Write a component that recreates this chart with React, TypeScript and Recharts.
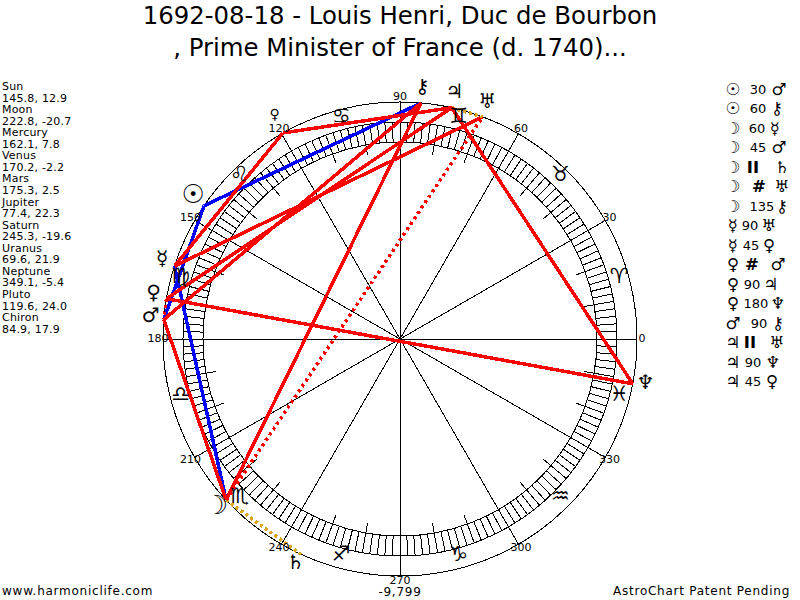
import { ScatterChart, Scatter, XAxis, YAxis, ReferenceDot, ReferenceLine } from "recharts";

const titleLines = ["1692-08-18 - Louis Henri, Duc de Bourbon", ", Prime Minister of France (d. 1740)..."];

const planetNames = ["Sun", "Moon", "Mercury", "Venus", "Mars", "Jupiter", "Saturn", "Uranus", "Neptune", "Pluto", "Chiron"];
const planetGlyphs = ["☉", "☽", "☿", "♀", "♂", "♃", "♄", "♅", "♆", "♀", "⚷"];
const longitudes = [145.8, 222.8, 162.1, 170.2, 175.3, 77.4, 245.3, 69.6, 349.1, 119.6, 84.9];
const declinations = ["12.9", "-20.7", "7.8", "-2.2", "2.5", "22.3", "-19.6", "21.9", "-5.4", "24.0", "17.9"];

const signGlyphs = ["♈", "♉", "♊", "♋", "♌", "♍", "♎", "♏", "♐", "♑", "♒", "♓"];
const degreeLabels = [0, 30, 60, 90, 120, 150, 180, 210, 240, 270, 300, 330];

// planet index, aspect, planet index
const aspectFrom = [0, 0, 1, 1, 1, 1, 1, 2, 2, 3, 3, 3, 4, 5, 5, 5];
const aspectNames = ["30", "60", "60", "45", "II", "#", "135", "90", "45", "#", "90", "180", "90", "II", "90", "45"];
const aspectTo = [4, 10, 2, 4, 6, 7, 10, 7, 9, 4, 5, 8, 10, 7, 8, 9];
const aspectKinds = ["soft", "soft", "soft", "hard", "par", "contra", "hard", "hard", "hard", "contra", "hard", "hard", "hard", "par", "hard", "hard"];

// where the middle and last column of each aspect row sit
const midColumn = [758, 758, 757, 758, 753, 759, 762, 750, 751, 752, 752, 756, 759, 750, 753, 753];
const endColumn = [779, 777, 775, 779, 782, 782, 782, 769, 769, 778, 771, 778, 778, 777, 773, 772];

const OUTER = 237;
const RING_OUT = 217;
const RING_IN = 197;
const TICK_IN = 187;
const PLUTO = 9;
const FONT = "'DejaVu Sans', sans-serif";

const polar = (deg: number, r: number) => ({
  x: r * Math.cos((deg * Math.PI) / 180),
  y: r * Math.sin((deg * Math.PI) / 180),
});

const lineStyle: Record<string, any> = {
  soft: { stroke: "#0000ff", strokeWidth: 3.5 },
  hard: { stroke: "#ff0000", strokeWidth: 3.5 },
  contra: { stroke: "#ff0000", strokeWidth: 3.5, strokeDasharray: "3 3.5" },
  par: { stroke: "#daa520", strokeWidth: 3.5, strokeDasharray: "3 3" },
};

// the sun and moon come out smaller than the reference glyphs
const glyphScale = (label: string) => (label === "☽" || label === "☉" ? 1.3 : 1);

const glyphShape = (size: number, dy = 0) => (p: any) => (
  <text
    x={p.cx}
    y={p.cy + dy}
    fontFamily={FONT}
    fontSize={(p.payload.size ?? size) * glyphScale(p.payload.label)}
    fontWeight={p.payload.label === "☉" ? "bold" : "normal"}
    fill="#000"
    textAnchor="middle"
    dominantBaseline="central"
  >
    {p.payload.label}
  </text>
);

const noDot = () => <g />;

const ringTicks = Array.from({ length: 180 }, (_, i) => i * 2);
const tenTicks = Array.from({ length: 36 }, (_, i) => i * 10);

const signData = signGlyphs.map((label, i) => ({ ...polar(15 + i * 30, 227), label }));
const degreeData = degreeLabels.map((d) => ({ ...polar(d, 242), label: String(d) }));
const planetData = planetGlyphs.map((label, i) => ({
  ...polar(longitudes[i], i === PLUTO ? 254 : 250),
  label,
  size: i === PLUTO ? 14 : 20,
}));

export default function App() {
  return (
    <div style={{ position: "absolute", left: 0, top: 0, width: 800, height: 600, shapeRendering: "crispEdges" }}>
      <ScatterChart width={800} height={600} margin={{ top: 0, right: 0, bottom: 0, left: 0 }}>
        <XAxis dataKey="x" type="number" domain={[-400, 400]} hide allowDataOverflow />
        <YAxis dataKey="y" type="number" domain={[-261, 339]} hide allowDataOverflow />

        {[OUTER, RING_OUT, RING_IN].map((r) => (
          <ReferenceDot key={r} x={0} y={0} r={r} fill="none" stroke="#000" strokeWidth={1} ifOverflow="visible" />
        ))}
        {degreeLabels.map((d) => (
          <ReferenceLine
            key={d}
            segment={[polar(d, 0), polar(d, OUTER)]}
            stroke="#000"
            strokeWidth={1}
            ifOverflow="visible"
          />
        ))}
        {tenTicks.map((d) => (
          <ReferenceLine key={d} segment={[polar(d, TICK_IN), polar(d, RING_OUT)]} stroke="#000" strokeWidth={1} ifOverflow="visible" />
        ))}
        {ringTicks.map((d) => (
          <ReferenceLine key={d} segment={[polar(d, RING_IN), polar(d, RING_OUT)]} stroke="#000" strokeWidth={1} ifOverflow="visible" />
        ))}

        {aspectFrom.map((from, i) => (
          <Scatter
            key={i}
            data={[polar(longitudes[from], OUTER), polar(longitudes[aspectTo[i]], OUTER)]}
            line={lineStyle[aspectKinds[i]]}
            shape={noDot}
            isAnimationActive={false}
          />
        ))}

        <Scatter data={signData} shape={glyphShape(21, -4)} isAnimationActive={false} />
        <Scatter data={degreeData} shape={glyphShape(11, -1)} isAnimationActive={false} />
        <Scatter data={planetData} shape={glyphShape(20, -4)} isAnimationActive={false} />

        {titleLines.map((t, i) => (
          <text key={i} x={400} y={24 + i * 32} textAnchor="middle" fontFamily={FONT} fontSize={24.4} fill="#000">
            {t}
          </text>
        ))}

        {planetNames.map((name, i) => (
          <g key={name} fontFamily={FONT} fontSize={11} letterSpacing={0.2} fill="#000">
            <text x={2} y={90 + i * 23.1}>{name}</text>
            <text x={2} y={101.6 + i * 23.1}>{`${longitudes[i]}, ${declinations[i]}`}</text>
          </g>
        ))}

        {aspectFrom.map((from, i) => {
          const y = 89 + i * 19.5;
          const word = aspectNames[i] === "II" || aspectNames[i] === "#";
          return (
            <g key={i} fontFamily={FONT} fill="#000" textAnchor="middle" dominantBaseline="central">
              <text x={733} y={y} fontSize={16.5}>{planetGlyphs[from]}</text>
              <text x={midColumn[i]} y={y} fontSize={word ? 16.5 : 13} fontWeight={word ? "bold" : "normal"}>
                {aspectNames[i]}
              </text>
              <text x={endColumn[i]} y={y} fontSize={16.5}>{planetGlyphs[aspectTo[i]]}</text>
            </g>
          );
        })}

        <g fontFamily={FONT} fontSize={12} letterSpacing={0.75} fill="#000">
          <text x={2} y={595}>www.harmoniclife.com</text>
          <text x={400} y={596} textAnchor="middle">-9,799</text>
          <text x={790} y={595} textAnchor="end">AstroChart Patent Pending</text>
        </g>
      </ScatterChart>
    </div>
  );
}
